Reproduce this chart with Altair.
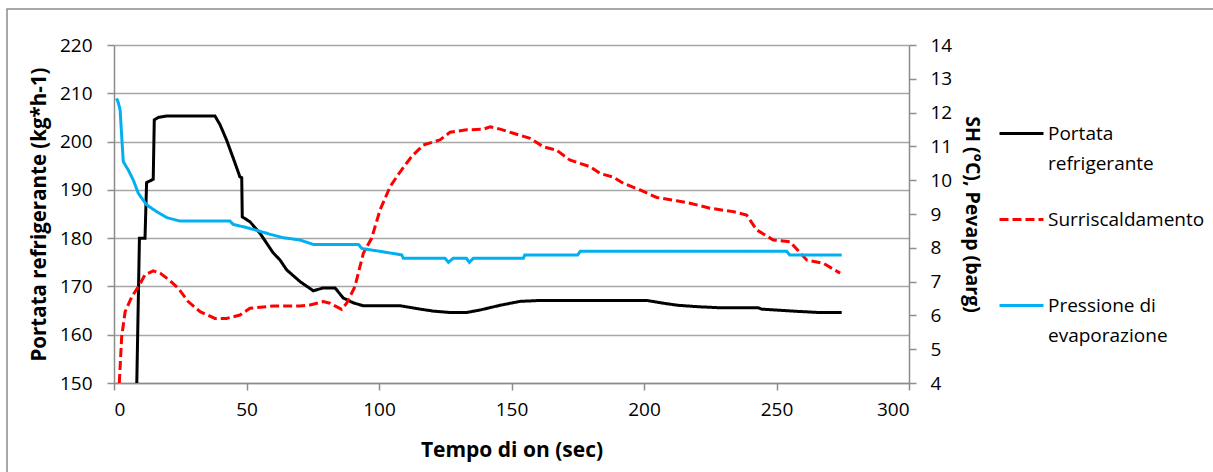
import altair as alt
import pandas as pd

# ---- data ----
series = ["Portata refrigerante", "Surriscaldamento", "Pressione di evaporazione"]

t_portata = [8.6, 9.6, 11.7, 12.3, 14.8, 15.2, 16.7, 19.9, 38.1, 40.0, 42.5, 45.7, 47.5, 48.2,
             48.4, 51.3, 55.1, 60.0, 62.6, 65.2, 70.2, 75.2, 79.0, 83.4, 86.5, 90.3, 94.0, 108.0,
             115.5, 120.4, 126.8, 133.0, 138.0, 145.7, 153.2, 160.8, 175.8, 201.0, 207.6, 212.7,
             220.3, 228.0, 243.0, 244.4, 255.8, 266.0, 274.6]
v_portata = [150, 180, 180, 191.5, 192.2, 204.5, 205, 205.3, 205.3, 203.5, 200.3, 195.5, 192.7, 192.5,
             184.4, 183.4, 181, 177, 175.5, 173.4, 171, 169.1, 169.7, 169.7, 167.6, 166.6, 166, 166,
             165.3, 164.9, 164.6, 164.6, 165.1, 166.1, 166.9, 167.1, 167.1, 167.1, 166.5, 166.1,
             165.8, 165.6, 165.6, 165.3, 164.9, 164.6, 164.6]

t_sh = [2.0, 2.9, 4.2, 6.7, 9.2, 11.7, 14.8, 17.4, 21.1, 24.3, 28.0, 32.5, 38.1, 42.5, 47.5, 51.3,
        60.1, 70.2, 74.0, 79.0, 81.5, 85.9, 87.8, 90.9, 94.1, 97.2, 100.4, 104.2, 108.0, 112.3,
        116.7, 123.0, 126.8, 133.0, 139.4, 141.9, 145.7, 150.7, 157.0, 162.0, 167.0, 172.0, 175.8,
        179.6, 183.4, 188.4, 192.2, 198.5, 204.8, 212.3, 217.4, 224.9, 233.7, 238.7, 242.5, 248.8,
        255.1, 261.4, 267.7, 274.0]
v_sh = [4.0, 5.37, 6.11, 6.55, 6.85, 7.2, 7.32, 7.25, 7.03, 6.8, 6.41, 6.11, 5.91, 5.91, 6.01, 6.21,
        6.28, 6.28, 6.31, 6.41, 6.36, 6.18, 6.36, 6.85, 7.84, 8.28, 9.12, 9.81, 10.25, 10.7,
        11.04, 11.19, 11.42, 11.49, 11.51, 11.58, 11.51, 11.39, 11.24, 10.99, 10.89, 10.6, 10.5,
        10.4, 10.2, 10.09, 9.91, 9.71, 9.49, 9.39, 9.32, 9.17, 9.07, 8.97, 8.53, 8.23,
        8.18, 7.64, 7.54, 7.25]

t_pev = [1.0, 1.6, 2.3, 3.5, 5.4, 7.3, 9.2, 12.3, 16.1, 20.0, 25.0, 43.8, 45.0, 50.0, 55.0, 58.9,
         63.9, 70.2, 75.2, 92.2, 93.5, 101.6, 108.6, 109.2, 124.9, 126.2, 128.0, 133.0, 134.1,
         135.6, 154.5, 155.0, 175.0, 176.0, 253.8, 255.0, 274.6]
v_pev = [12.42, 12.3, 12.08, 10.55, 10.3, 10.0, 9.61, 9.27, 9.07, 8.89, 8.79, 8.79, 8.69, 8.6, 8.49, 8.4,
         8.3, 8.23, 8.1, 8.1, 7.98, 7.88, 7.79, 7.69, 7.69, 7.57, 7.69, 7.69, 7.57,
         7.69, 7.69, 7.79, 7.79, 7.9, 7.9, 7.79, 7.79]

x_ticks = [0, 50, 100, 150, 200, 250, 300]
left_ticks = [150, 160, 170, 180, 190, 200, 210, 220]
right_ticks = [4, 5, 6, 7, 8, 9, 10, 11, 12, 13, 14]

# ---- tables ----
df_left = pd.DataFrame({"t": t_portata, "v": v_portata, "serie": series[0]})
df_right = pd.concat([
    pd.DataFrame({"t": t_sh, "v": v_sh, "serie": series[1]}),
    pd.DataFrame({"t": t_pev, "v": v_pev, "serie": series[2]}),
], ignore_index=True)

FONT = "Open Sans"
W, H = 795, 338

color = alt.Color(
    "serie:N",
    scale=alt.Scale(domain=series, range=["#000000", "#FF0000", "#00B0F0"]),
    legend=alt.Legend(
        orient="none", legendX=884, legendY=65, title=None,
        symbolType="stroke", symbolStrokeWidth=3, symbolSize=1936,
        labelFont=FONT, labelFontSize=19, labelColor="#000000", labelLimit=400,
        labelOffset=3, rowPadding=22, padding=0,
        labelExpr="datum.label == 'Portata refrigerante' ? ['Portata', 'refrigerante'] : "
                  "datum.label == 'Pressione di evaporazione' ? ['Pressione di', 'evaporazione'] : "
                  "[datum.label, ' ']",
    ),
)
dash = alt.StrokeDash(
    "serie:N",
    scale=alt.Scale(domain=series, range=[[1, 0], [9, 4], [1, 0]]),
    legend=None,
)

x_enc = alt.X(
    "t:Q",
    scale=alt.Scale(domain=[0, 300], nice=False),
    axis=alt.Axis(values=x_ticks, title="Tempo di on  (sec)", grid=False,
                  tickSize=7, labelPadding=10, titlePadding=20, titleFontSize=21),
)

left = alt.Chart(df_left).mark_line(strokeWidth=3, clip=True).encode(
    x=x_enc,
    y=alt.Y("v:Q", scale=alt.Scale(domain=[150, 220], nice=False, zero=False),
            axis=alt.Axis(values=left_ticks, title="Portata refrigerante (kg*h-1)",
                          grid=True, tickSize=7, labelPadding=15, titlePadding=10,
                          titleFontSize=20.5)),
    color=color,
    strokeDash=dash,
)

right = alt.Chart(df_right).mark_line(strokeWidth=3, clip=True).encode(
    x=x_enc,
    y=alt.Y("v:Q", scale=alt.Scale(domain=[4, 14], nice=False, zero=False),
            axis=alt.Axis(values=right_ticks, orient="right", title="SH (°C), Pevap (barg)",
                          grid=False, tickSize=7, labelPadding=14, titlePadding=10,
                          titleFontSize=19.5)),
    color=color,
    strokeDash=dash,
)

border = alt.Chart(pd.DataFrame({"k": [0]})).mark_rect(
    fill=None, stroke="#8c8c8c", strokeWidth=1.5
).encode(
    x=alt.value(-107), x2=alt.value(1300), y=alt.value(-36), y2=alt.value(600)
)

chart = alt.layer(left, right, border).resolve_scale(
    y="independent"
).properties(
    width=W, height=H,
    autosize=alt.AutoSizeParams(type="none"),
    padding={"left": 114, "top": 45, "right": 1213 - 114 - W, "bottom": 472 - 45 - H},
).configure(
    background="white",
    style={"guide-label": {"lineHeight": 30}},
).configure_view(stroke=None).configure_axis(
    labelFont=FONT, labelFontSize=19, labelColor="#000000",
    titleFont=FONT, titleFontSize=19, titleFontWeight="bold", titleColor="#000000",
    domainColor="#8c8c8c", domainWidth=1.5, tickColor="#8c8c8c", tickWidth=1.5,
    gridColor="#a6a6a6", gridWidth=1.3,
)

chart.save("out.html", embed_options={"renderer": "svg", "actions": False})
